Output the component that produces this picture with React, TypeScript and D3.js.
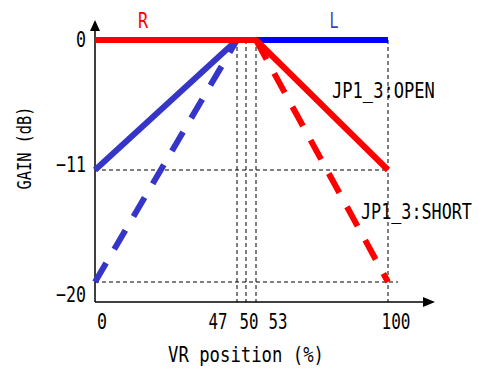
import * as d3 from 'd3'

// VR position (%) tick values and gain (dB) tick values
const positions = [0, 47, 50, 53, 100]
const gainTicks = [0, -11, -20]

// L channel (blue)
const lOpenPos = [0, 47, 100]
const lOpenGain = [-11, 0, 0]
const lShortPos = [0, 47]
const lShortGain = [-20, 0]

// R channel (red)
const rOpenPos = [0, 53, 100]
const rOpenGain = [0, 0, -11]
const rShortPos = [53, 100]
const rShortGain = [0, -20]

const FONT = '"DejaVu Sans Mono", "Liberation Mono", monospace'

// monospace text squeezed to a given width: the font size sets the width,
// a vertical scale gives the tall narrow glyphs of the original
function Label({ x, y, text, len, size = 22, anchor = 'middle', fill = '#000', rotate = 0 }) {
  const fs = len / (0.602 * text.length)
  const sy = size / fs
  return (
    <text
      x={0}
      y={0}
      fontSize={fs}
      fontFamily={FONT}
      textAnchor={anchor}
      dominantBaseline="central"
      fill={fill}
      transform={`translate(${x},${y}) rotate(${rotate}) scale(1,${sy})`}
    >
      {text}
    </text>
  )
}

export default function App() {
  const width = 479
  const height = 373

  // the middle of the axis is stretched in the original, so the scales are piecewise
  const x = d3.scaleLinear().domain(positions).range([95, 237, 246, 256, 388])
  const xLab = d3.scaleLinear().domain(positions).range([102, 218, 249, 278, 396])
  const y = d3.scaleLinear().domain(gainTicks).range([40, 170, 282])
  const yLab = d3.scaleLinear().domain(gainTicks).range([40, 165, 295])

  const bottom = 302
  const axisTop = 20
  const axisRight = 435

  const line = d3.line<[number, number]>().x(d => x(d[0])).y(d => y(d[1]))
  const pts = (p: number[], g: number[]) => p.map((v, i) => [v, g[i]] as [number, number])

  const lOpen = pts(lOpenPos, lOpenGain)
  const lOpenSegs = d3.pairs(lOpen)

  const guide = { stroke: '#000', strokeWidth: 1, strokeDasharray: '4,3', fill: 'none' }

  return (
    <svg width={width} height={height} style={{ position: 'absolute', left: 0, top: 0, background: '#fff' }}>
      {/* guide lines */}
      {positions.filter(p => p > 0).map(p => (
        <line key={p} x1={x(p)} x2={x(p)} y1={y(0)} y2={bottom} {...guide} />
      ))}
      <line x1={x(0)} x2={x(100)} y1={y(-11)} y2={y(-11)} {...guide} />
      <line x1={x(0)} x2={x(100) + 10} y1={y(-20)} y2={y(-20)} {...guide} />

      {/* axes */}
      <line x1={x(0)} x2={x(0)} y1={bottom} y2={axisTop + 8} stroke="#000" strokeWidth={1.5} />
      <path d={`M${x(0)},${axisTop} l-5,11 h10 z`} fill="#000" />
      <line x1={x(0)} x2={axisRight - 10} y1={bottom} y2={bottom} stroke="#000" strokeWidth={1.5} />
      <path d={`M${axisRight},${bottom} l-12,-5 v10 z`} fill="#000" />

      {/* L channel */}
      {lOpenSegs.map(([a, b], i) => (
        <path
          key={i}
          d={line([a, b]) || ''}
          stroke={a[1] === b[1] ? '#0000ff' : '#3535c8'}
          strokeWidth={6}
          fill="none"
        />
      ))}
      <path d={line(pts(lShortPos, lShortGain)) || ''} stroke="#3535c8" strokeWidth={6} strokeDasharray="22,16" fill="none" />

      {/* R channel */}
      <path d={line(pts(rOpenPos, rOpenGain)) || ''} stroke="#ff0000" strokeWidth={6} strokeLinejoin="round" fill="none" />
      <path d={line(pts(rShortPos, rShortGain)) || ''} stroke="#ff0000" strokeWidth={6} strokeDasharray="22,16" fill="none" />

      {/* tick labels */}
      {gainTicks.map(g => (
        <Label key={g} x={86} y={yLab(g)} anchor="end" text={g === 0 ? '0' : `\u2212${-g}`} len={g === 0 ? 10 : 30} />
      ))}
      {positions.map(p => (
        <Label key={p} x={xLab(p)} y={322} text={String(p)} len={p === 100 ? 29 : p === 0 ? 10 : 19} />
      ))}

      {/* titles */}
      <Label x={246} y={355} text="VR position (%)" len={156} />
      <Label x={24} y={148} text="GAIN (dB)" len={83} size={20} rotate={-90} />
      <Label x={143} y={21} text="R" fill="#ff0000" len={10} />
      <Label x={334} y={20} text="L" fill="#4040c0" len={9} />
      <Label x={332} y={91} anchor="start" text="JP1_3:OPEN" len={103} />
      <Label x={361} y={212} anchor="start" text="JP1_3:SHORT" len={111} />
    </svg>
  )
}
